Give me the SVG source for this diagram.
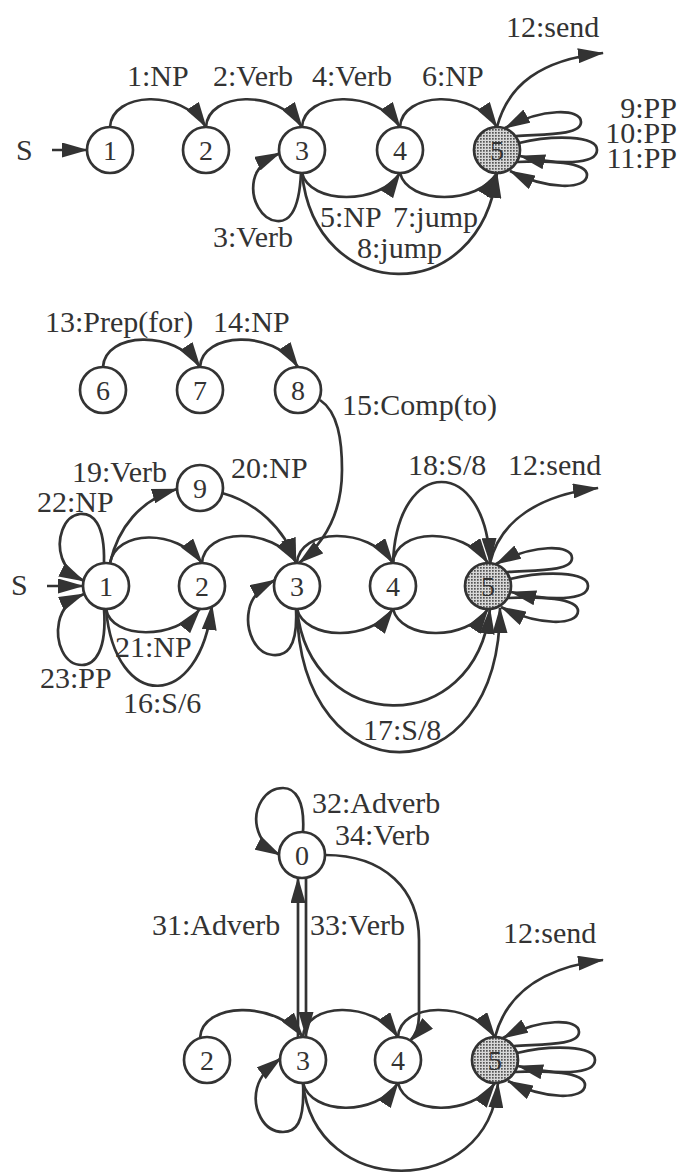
<svg xmlns="http://www.w3.org/2000/svg" width="681" height="1176" viewBox="0 0 681 1176">
<style>
.n{fill:#fff;stroke:#333;stroke-width:2.7}
.f{fill:url(#stip);stroke:#333;stroke-width:2.7}
.d{font-family:"Liberation Serif","Times New Roman",Times,serif;font-size:28px;fill:#333;text-anchor:middle}
.t{font-family:"Liberation Serif","Times New Roman",Times,serif;font-size:30px;fill:#333}
.e{fill:none;stroke:#333;stroke-width:2.7;marker-end:url(#ah)}
</style>
<defs>
<marker id="ah" viewBox="0 0 26 15" refX="25" refY="7.5" markerWidth="26" markerHeight="15" markerUnits="userSpaceOnUse" orient="auto">
<path d="M0,0 L26,7.5 L0,15 z" fill="#333"/>
</marker>
<pattern id="stip" width="3" height="3" patternUnits="userSpaceOnUse">
<rect width="3" height="3" fill="#d8d8d8"/><rect width="1.7" height="1.7" fill="#555"/>
</pattern>
<g id="loops">
<path class="e" d="M19,-14 C45,-16 84,-14 84,-28 C84,-42 45,-42 8,-22"/>
<path class="e" d="M22,-7 C55,-15 100,-15 100,0 C100,15 60,15 23,6"/>
<path class="e" d="M20,12 C50,10 90,12 90,25 C90,40 50,40 13,21"/>
</g>
</defs>
<rect width="681" height="1176" fill="#fff"/>

<g id="connectors">
<!-- top -->
<path class="e" d="M52,150 L87,150"/>
<path class="e" d="M110,127 C112,92 181,88 206,127"/>
<path class="e" d="M206,127 C208,92 277,88 302,127"/>
<path class="e" d="M302,127 C304,92 375,88 400,127"/>
<path class="e" d="M400,127 C402,92 472,88 497,127"/>
<path class="e" d="M301,173 C299,215 287,222 277,221 C262,220 250,200 254,180 C256,170 265,160 280,153"/>
<path class="e" d="M302,173 C310,205 380,205 400,173"/>
<path class="e" d="M400,173 C408,205 478,205 497,173"/>
<path class="e" d="M302,173 C315,305 480,310 497,173"/>
<path class="e" d="M497,127 C508,85 540,60 603,53"/>
<use href="#loops" transform="translate(497,150)"/>
<!-- middle -->
<path class="e" d="M103,367 C105,332 175,329 200,367"/>
<path class="e" d="M200,367 C202,332 273,329 298,367"/>
<path class="e" d="M320,400 C338,412 342,440 342,470 C342,510 328,540 299,563"/>
<path class="e" d="M110,563 C118,528 140,500 177,489"/>
<path class="e" d="M222,493 C255,502 285,528 296,563"/>
<path class="e" d="M104,563 C105,522 92,513 80,514 C63,516 56,540 62,558 C66,570 74,576 84,581"/>
<path class="e" d="M47,586 L83,586"/>
<path class="e" d="M104,609 C107,650 95,665 82,665 C64,665 55,642 59,622 C62,608 70,600 84,594"/>
<path class="e" d="M110,563 C116,530 176,528 202,563"/>
<path class="e" d="M202,563 C204,528 272,526 297,563"/>
<path class="e" d="M297,563 C299,528 368,526 393,563"/>
<path class="e" d="M393,563 C395,528 463,526 488,563"/>
<path class="e" d="M393,563 C397,455 486,455 490,563"/>
<path class="e" d="M490,563 C500,520 540,495 598,488"/>
<path class="e" d="M106,609 C112,640 175,640 200,609"/>
<path class="e" d="M106,609 C115,712 200,712 212,605"/>
<path class="e" d="M296,609 C298,650 285,656 273,655 C255,654 245,630 249,610 C251,598 260,588 275,580"/>
<path class="e" d="M297,609 C305,640 370,642 393,609"/>
<path class="e" d="M393,609 C401,640 466,642 488,609"/>
<path class="e" d="M297,609 C310,735 475,740 490,609"/>
<path class="e" d="M297,609 C300,800 500,800 500,608"/>
<use href="#loops" transform="translate(488,586)"/>
<!-- bottom -->
<path class="e" d="M303,832 C305,800 295,788 283,788 C265,788 253,808 257,827 C260,840 267,848 280,855"/>
<path class="e" d="M298,1037 L298,878"/>
<path class="e" d="M306,878 L306,1037"/>
<path class="e" d="M325,855 C385,855 419,890 419,940 L419,1015 C419,1028 416,1035 410,1041"/>
<path class="e" d="M200,1038 C202,1002 275,1000 303,1037"/>
<path class="e" d="M303,1037 C305,1002 373,1000 398,1037"/>
<path class="e" d="M398,1037 C400,1002 470,1000 495,1037"/>
<path class="e" d="M495,1037 C506,995 540,968 603,960"/>
<path class="e" d="M303,1083 C305,1125 295,1132 283,1132 C263,1132 252,1108 257,1088 C260,1076 268,1068 281,1058"/>
<path class="e" d="M303,1083 C311,1115 376,1117 398,1083"/>
<path class="e" d="M398,1083 C406,1115 471,1117 495,1083"/>
<path class="e" d="M303,1083 C315,1200 488,1200 498,1083"/>
<use href="#loops" transform="translate(495,1060)"/>
</g>

<g id="labels">
<text class="t" x="16" y="160">S</text>
<text class="t" x="127" y="86">1:NP</text>
<text class="t" x="213" y="86">2:Verb</text>
<text class="t" x="312" y="86">4:Verb</text>
<text class="t" x="422" y="86">6:NP</text>
<text class="t" x="506" y="37">12:send</text>
<text class="t" x="677" y="118" text-anchor="end">9:PP</text>
<text class="t" x="677" y="143" text-anchor="end">10:PP</text>
<text class="t" x="677" y="168" text-anchor="end">11:PP</text>
<text class="t" x="213" y="247">3:Verb</text>
<text class="t" x="320" y="227">5:NP</text>
<text class="t" x="393" y="227">7:jump</text>
<text class="t" x="357" y="258">8:jump</text>

<text class="t" x="45" y="332">13:Prep(for)</text>
<text class="t" x="213" y="332">14:NP</text>
<text class="t" x="342" y="415">15:Comp(to)</text>
<text class="t" x="72" y="482">19:Verb</text>
<text class="t" x="231" y="478">20:NP</text>
<text class="t" x="37" y="512">22:NP</text>
<text class="t" x="408" y="475">18:S/8</text>
<text class="t" x="508" y="475">12:send</text>
<text class="t" x="11" y="595">S</text>
<text class="t" x="115" y="657">21:NP</text>
<text class="t" x="40" y="688">23:PP</text>
<text class="t" x="123" y="713">16:S/6</text>
<text class="t" x="363" y="740">17:S/8</text>

<text class="t" x="312" y="813">32:Adverb</text>
<text class="t" x="335" y="845">34:Verb</text>
<text class="t" x="152" y="935">31:Adverb</text>
<text class="t" x="310" y="935">33:Verb</text>
<text class="t" x="503" y="943">12:send</text>
</g>

<g id="a1"><circle class="n" cx="110" cy="150" r="23"/><text class="d" x="110" y="160">1</text></g>
<g id="a2"><circle class="n" cx="206" cy="150" r="23"/><text class="d" x="206" y="160">2</text></g>
<g id="a3"><circle class="n" cx="302" cy="150" r="23"/><text class="d" x="302" y="160">3</text></g>
<g id="a4"><circle class="n" cx="400" cy="150" r="23"/><text class="d" x="400" y="160">4</text></g>
<g id="a5"><circle class="f" cx="497" cy="150" r="23"/><text class="d" x="497" y="160">5</text></g>

<g id="b6"><circle class="n" cx="103" cy="390" r="23"/><text class="d" x="103" y="400">6</text></g>
<g id="b7"><circle class="n" cx="200" cy="390" r="23"/><text class="d" x="200" y="400">7</text></g>
<g id="b8"><circle class="n" cx="298" cy="390" r="23"/><text class="d" x="298" y="400">8</text></g>
<g id="b9"><circle class="n" cx="200" cy="488" r="23"/><text class="d" x="200" y="498">9</text></g>
<g id="b1"><circle class="n" cx="106" cy="586" r="23"/><text class="d" x="106" y="596">1</text></g>
<g id="b2"><circle class="n" cx="202" cy="586" r="23"/><text class="d" x="202" y="596">2</text></g>
<g id="b3"><circle class="n" cx="297" cy="586" r="23"/><text class="d" x="297" y="596">3</text></g>
<g id="b4"><circle class="n" cx="393" cy="586" r="23"/><text class="d" x="393" y="596">4</text></g>
<g id="b5"><circle class="f" cx="488" cy="586" r="23"/><text class="d" x="488" y="596">5</text></g>

<g id="c0"><circle class="n" cx="302" cy="855" r="23"/><text class="d" x="302" y="865">0</text></g>
<g id="c2"><circle class="n" cx="207" cy="1060" r="23"/><text class="d" x="207" y="1070">2</text></g>
<g id="c3"><circle class="n" cx="303" cy="1060" r="23"/><text class="d" x="303" y="1070">3</text></g>
<g id="c4"><circle class="n" cx="398" cy="1060" r="23"/><text class="d" x="398" y="1070">4</text></g>
<g id="c5"><circle class="f" cx="495" cy="1060" r="23"/><text class="d" x="495" y="1070">5</text></g>
</svg>
